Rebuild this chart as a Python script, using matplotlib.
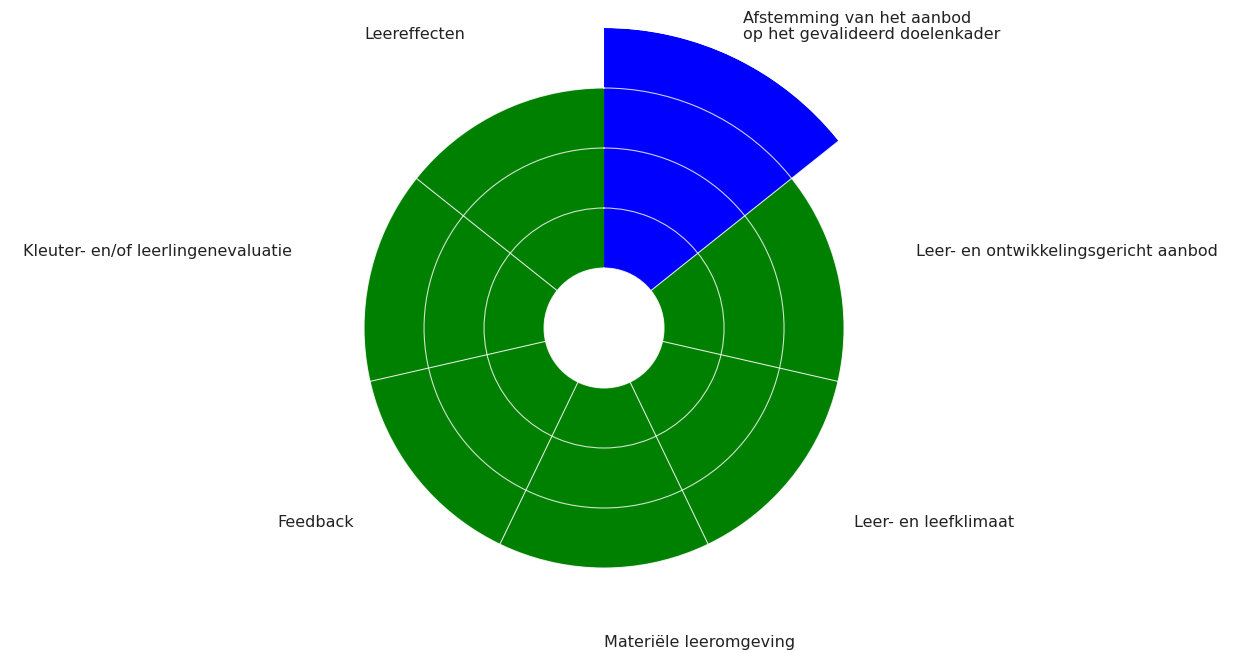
import numpy as np
import matplotlib
matplotlib.use('Agg')
import matplotlib.pyplot as plt
import matplotlib.transforms as mtransforms

labels = ['Afstemming van het aanbod\nop het gevalideerd doelenkader',
          'Leer- en ontwikkelingsgericht aanbod',
          'Leer- en leefklimaat',
          'Materiële leeromgeving',
          'Feedback',
          'Kleuter- en/of leerlingenevaluatie',
          'Leereffecten']
values = [4, 3, 3, 3, 3, 3, 3]
colors = ['blue', 'green', 'green', 'green', 'green', 'green', 'green']
offset = 1

n = len(labels)
width = 2 * np.pi / n
theta = np.arange(n) * width

fig = plt.figure(figsize=(12.43, 6.53), dpi=100)
ax = fig.add_axes([0.2446, 0.0383, 0.4827, 0.9188], projection='polar')
ax.set_theta_zero_location('N')
ax.set_theta_direction(-1)

ax.bar(theta, values, width=width, bottom=offset, align='edge',
       color=colors, edgecolor='none', linewidth=0)
ax.set_ylim(0, 5)

# white grid on top of the bars
ax.set_axisbelow(False)
ax.set_thetagrids(np.degrees(theta[1:]), labels=[''] * (n - 1))
ax.set_rgrids([1, 2, 3, 4], labels=[''] * 4)
ax.grid(True, color='white', linewidth=0.8, alpha=0.8)
ax.spines['polar'].set_visible(False)
ax.set_facecolor('white')

# labels around the outside, nudged up a little (two-line ones a bit more)
for t, lab in zip(theta + width / 2, labels):
    ha = 'left' if t <= np.pi + 1e-6 else 'right'
    trans = mtransforms.offset_copy(ax.transData, fig=fig,
                                    y=5 + 8 * lab.count('\n'), units='dots')
    ax.text(t, 5.33, lab, ha=ha, va='center', fontsize=11.5,
            color='#222222', linespacing=1.1, transform=trans)

fig.savefig('out.png', dpi=100)
